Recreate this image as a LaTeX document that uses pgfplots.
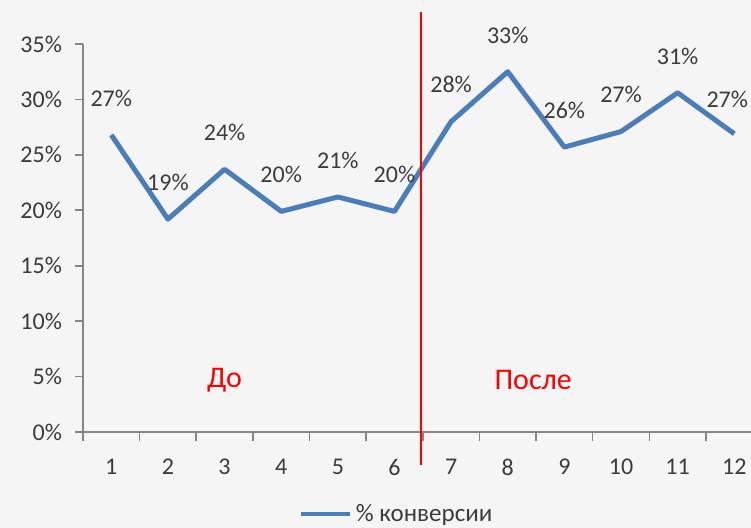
\documentclass[border=0pt]{standalone}
\usepackage{pgfplots}
\pgfplotsset{compat=1.18}
\usepackage{fontspec}
\setmainfont{Carlito}
\definecolor{serie}{RGB}{74,126,187}
\definecolor{txt}{RGB}{60,60,60}
\definecolor{axisgray}{RGB}{134,134,134}
\definecolor{bg}{RGB}{245,245,245}
\begin{document}
\begin{tikzpicture}
\path[use as bounding box, fill=bg] (-41.5pt,-48pt) rectangle (334pt,216pt);
\begin{axis}[
  at={(0,0)}, anchor=south west,
  scale only axis, width=339.8pt, height=194pt,
  xmin=0.5, xmax=12.5, ymin=0, ymax=35,
  clip=false,
  axis x line*=bottom, axis y line*=left,
  axis line style={-, axisgray, line width=0.8pt},
  tick style={axisgray, line width=0.8pt},
  tick align=outside,
  xtick={1,...,12},
  major x tick style={draw=none},
  minor xtick={0.5,1.5,...,12.5},
  minor tick length=4.5pt,
  ytick={0,5,...,35},
  major tick length=4pt,
  yticklabel={\pgfmathprintnumber{\tick}\%},
  /pgf/number format/assume math mode=true,
  tick label style={font=\fontsize{12}{14}\selectfont, text=txt},
  xticklabel style={yshift=-6pt},
  yticklabel style={xshift=-3pt},
  point meta=explicit symbolic,
  nodes near coords,
  every node near coord/.append style={font=\fontsize{12}{14}\selectfont, text=txt, inner sep=0pt, yshift=13pt},
  legend style={at={(0.463,0)}, anchor=center, yshift=-41pt, draw=none, fill=none, font=\fontsize{12.5}{14}\selectfont, text=txt},
  legend image code/.code={\draw[#1, line width=2pt] (0pt,0pt) -- (24.5pt,0pt);},
]
\addplot[serie, line width=2.5pt, line join=round, mark=none] coordinates {
  (1,26.8) [27\%]
  (2,19.2) [19\%]
  (3,23.7) [24\%]
  (4,19.9) [20\%]
  (5,21.2) [21\%]
  (6,19.9) [20\%]
  (7,28.0) [28\%]
  (8,32.5) [33\%]
  (9,25.7) [26\%]
  (10,27.1) [27\%]
  (11,30.6) [31\%]
  (12,26.9) []
};
\addlegendentry{\% конверсии}
\node[anchor=south, inner sep=0pt, xshift=-3.5pt, yshift=13pt, font=\fontsize{12}{14}\selectfont, text=txt] at (axis cs:12,26.9) {27\%};
\draw[red, line width=1pt] (axis cs:6.47,37.9) -- (axis cs:6.47,-3);
\node[red, font=\fontsize{15}{17}\selectfont] at (axis cs:3,4.7) {До};
\node[red, font=\fontsize{15}{17}\selectfont] at (axis cs:8.45,4.7) {После};
\end{axis}
\end{tikzpicture}
\end{document}
